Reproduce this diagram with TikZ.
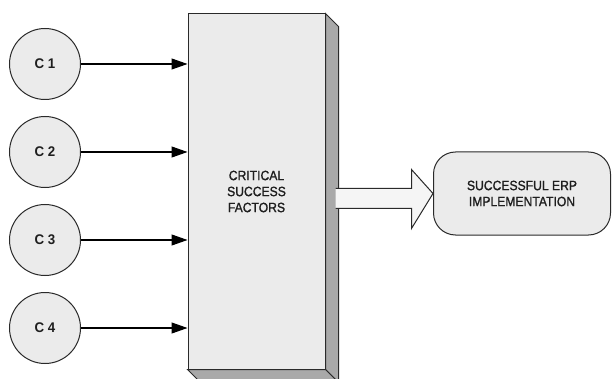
\documentclass[tikz,border=0pt]{standalone}
\usepackage{fontspec}
\setmainfont{Liberation Sans}
\newfontfamily\lblfont[FakeStretch=0.9,FakeBold=1.2]{Liberation Sans}
\newfontfamily\cfont[FakeStretch=0.95]{Liberation Sans Bold}
\usetikzlibrary{arrows.meta,calc}
\definecolor{facegray}{HTML}{EBEBEB}
\definecolor{sidegray}{HTML}{A9A9A9}
\definecolor{linegray}{HTML}{2A2A2A}
\definecolor{textgray}{HTML}{1E1E1E}
\tikzset{
  cnode/.style={circle,draw=linegray,line width=1pt,fill=facegray,minimum size=71pt,inner sep=0pt,text=textgray,font=\cfont\fontsize{14}{16}\selectfont},
  feed/.style={draw=black,line width=1.1pt,-{Triangle[length=16pt,width=11pt]}},
  facebox/.style={draw=linegray,line width=1pt,fill=facegray,minimum width=137pt,minimum height=355pt,inner sep=0pt,align=center,text=textgray,font=\lblfont\fontsize{13.5}{16}\selectfont},
  sideface/.style={draw=linegray,line width=1pt,fill=sidegray},
  outbox/.style={draw=linegray,line width=1pt,fill=facegray,rounded corners=22pt,minimum width=177pt,minimum height=83pt,inner sep=0pt,align=center,text=textgray,font=\lblfont\fontsize{13.5}{16}\selectfont},
  hollow/.style={draw=linegray,line width=1pt,fill=white!96!black,line join=miter}
}
\begin{document}
\begin{tikzpicture}[x=1pt,y=-1pt]
\useasboundingbox (0,0) rectangle (612,379);
% 3D side faces
\node[facebox] (csf) at (256.5,191.5) {};
\fill[sideface] (csf.north east) -- ++(13,13) -- ($(csf.south east)+(13,13)$) -- (csf.south east) -- cycle;
\fill[sideface] (csf.south west) -- ++(13,13) -- ($(csf.south east)+(13,13)$) -- (csf.south east) -- cycle;
\node[facebox] (csfront) at (256.5,191.5) {CRITICAL\\SUCCESS\\FACTORS};
% inputs
\node[cnode] (c1) at (45,64) {C 1};
\node[cnode] (c2) at (45,152) {C 2};
\node[cnode] (c3) at (45,240) {C 3};
\node[cnode] (c4) at (45,328) {C 4};
\foreach \i in {1,2,3,4}{
  \draw[feed] (c\i) -- (c\i -| csfront.west);
}
% output
\node[outbox] (out) at (522,193.5) {SUCCESSFUL ERP\\IMPLEMENTATION};
\coordinate (astart) at ($(csfront.east)+(10,7)$);
\draw[hollow] ($(astart)+(0,-10)$) -- ($(astart)+(76,-10)$) -- ($(astart)+(76,-29)$)
  -- (out.west) -- ($(astart)+(76,30)$) -- ($(astart)+(76,10)$) -- ($(astart)+(0,10)$);
\end{tikzpicture}
\end{document}
